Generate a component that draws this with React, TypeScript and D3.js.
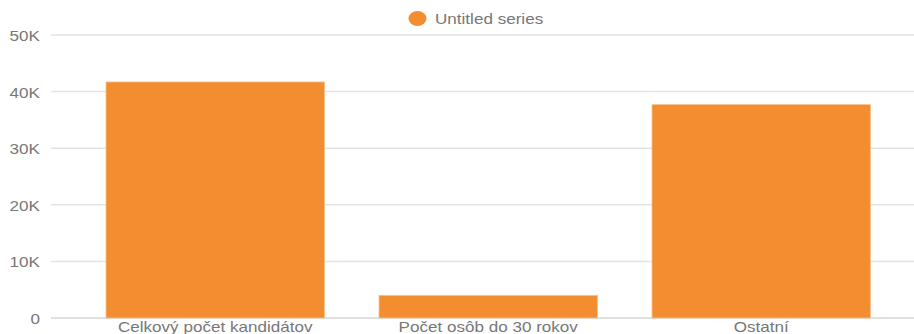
import React from "react";
import * as d3 from "d3";

const categories = ["Celkový počet kandidátov", "Počet osôb do 30 rokov", "Ostatní"];
const values = [41700, 4000, 37700];
const seriesName = "Untitled series";
const yTicks = [0, 10000, 20000, 30000, 40000, 50000];
const yTickLabels = ["0", "10K", "20K", "30K", "40K", "50K"];

const W = 914;
const H = 334;
const SX = 1.22;
const FONT = "Arial, 'Liberation Sans', sans-serif";
const BAR = "#f28e2f";
const TEXT = "#777777";

export default function App() {
  const x = d3.scaleBand<string>().domain(categories).range([78.7, 897.7]).paddingInner(0.2).paddingOuter(0.1);
  const y = d3.scaleLinear().domain([0, 50000]).range([318, 35]);

  const stretchedText = (tx: number, ty: number, anchor: string, txt: string, key?: any) => (
    <g key={key} transform={`translate(${tx},${ty}) scale(${SX},1)`}>
      <text x={0} y={0} textAnchor={anchor} fontFamily={FONT} fontSize={14} fill={TEXT}>
        {txt}
      </text>
    </g>
  );

  return (
    <svg width={W} height={H} style={{ position: "absolute", left: 0, top: 0, background: "#fff" }}>
      {yTicks.map((t, i) => (
        <line key={"g" + i} x1={51} x2={W} y1={y(t)} y2={y(t)} stroke={i === 0 ? "#d6d6d6" : "#e3e3e3"} strokeWidth={1.5} />
      ))}
      {yTicks.map((t, i) => stretchedText(40, y(t) + 6, "end", yTickLabels[i], "yl" + i))}
      {categories.map((c, i) => (
        <rect
          key={"b" + i}
          x={x(c)!}
          y={y(values[i])}
          width={x.bandwidth()}
          height={y(0) - y(values[i])}
          fill={BAR}
          stroke="#f8c08c"
          strokeWidth={0.8}
        />
      ))}
      {categories.map((c, i) => stretchedText(x(c)! + x.bandwidth() / 2, 332, "middle", c, "xl" + i))}
      <ellipse cx={417.5} cy={18.5} rx={9} ry={7.5} fill={BAR} />
      {stretchedText(435, 24, "start", seriesName)}
    </svg>
  );
}
